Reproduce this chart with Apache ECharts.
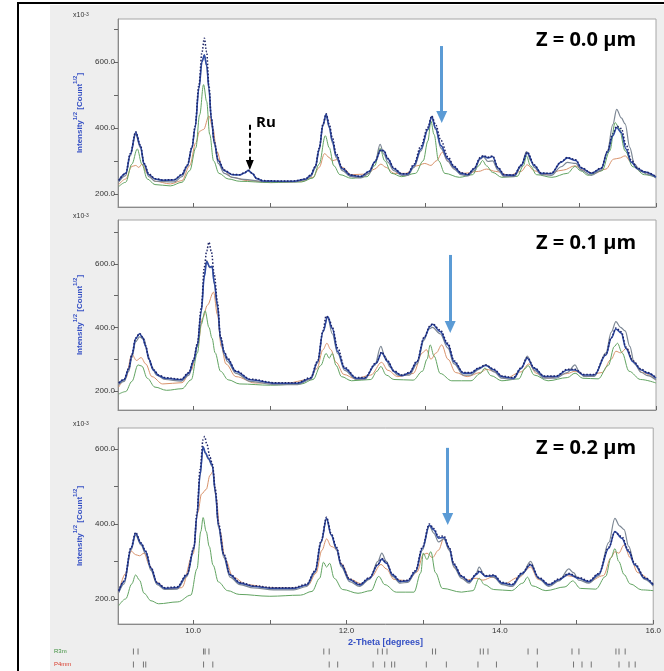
<!DOCTYPE html>
<html>
<head>
<meta charset="utf-8">
<script src="https://cdn.jsdelivr.net/npm/echarts@6/dist/echarts.min.js"></script>
<style>
  html, body { margin: 0; padding: 0; background: #fff; }
  #main { width: 664px; height: 671px; }
</style>
</head>
<body>
<div id="main"></div>
<script>
// x tick labels, y tick labels, bragg rows
var xLabelValues = [10, 12, 14, 16];
var xTickValues = [10, 11, 12, 13, 14, 15, 16];
var yLabelValues = [200, 400, 600];
var yTickValues = [200, 300, 400, 500, 600, 700];
var panelNames = ['Z = 0.0 µm', 'Z = 0.1 µm', 'Z = 0.2 µm'];
var phaseNames = ['R3m', 'P4mm'];

// bragg positions (2-theta)
var r3mPos = [9.22, 9.28, 10.13, 10.15, 10.20, 11.69, 11.76, 12.39, 12.45, 12.51, 13.10, 13.14, 13.72, 13.76, 13.82, 14.34, 14.46, 14.91, 15.00, 15.48, 15.52, 15.60];
var p4mmPos = [9.22, 9.35, 9.38, 10.13, 10.25, 11.76, 11.87, 12.33, 12.48, 12.57, 12.61, 13.02, 13.28, 13.69, 13.93, 14.46, 14.93, 15.04, 15.16, 15.52, 15.65, 15.73];

// arrows: [x, yTop, yTip] per panel
var arrowMarks = [[13.22, 648, 433], [13.33, 628, 401], [13.32, 603, 413]];
var ruMark = [10.73, 409, 287];

// ---- panel 1 (Z = 0.0) ----
var p1Obs = [[9.03,241],[9.12,262],[9.18,322],[9.25,388],[9.31,348],[9.36,292],[9.42,260],[9.5,246],[9.6,242],[9.75,243],[9.85,259],[9.92,288],[9.98,342],[10.02,405],[10.07,530],[10.11,630],[10.14,672],[10.17,630],[10.2,530],[10.23,432],[10.27,358],[10.32,302],[10.4,272],[10.5,259],[10.6,258],[10.66,264],[10.71,271],[10.76,263],[10.82,247],[10.9,240],[11.1,239],[11.3,239],[11.45,245],[11.52,257],[11.58,283],[11.63,338],[11.68,412],[11.72,443],[11.76,412],[11.8,372],[11.85,322],[11.93,279],[12.04,257],[12.17,253],[12.28,268],[12.35,296],[12.43,333],[12.47,331],[12.52,308],[12.6,278],[12.7,261],[12.78,261],[12.86,290],[12.95,345],[13.04,402],[13.09,436],[13.14,410],[13.21,362],[13.3,312],[13.38,284],[13.47,264],[13.56,259],[13.64,277],[13.72,310],[13.76,316],[13.82,311],[13.88,315],[13.95,280],[14.03,258],[14.16,257],[14.25,287],[14.33,326],[14.42,288],[14.51,263],[14.64,262],[14.77,297],[14.85,310],[14.96,303],[15.03,280],[15.16,263],[15.29,278],[15.37,328],[15.44,382],[15.49,405],[15.55,398],[15.61,350],[15.68,302],[15.76,278],[15.85,267],[16.0,252]];
var p1Calc = [[9.03,240],[9.12,262],[9.18,320],[9.25,386],[9.31,345],[9.36,290],[9.42,258],[9.5,245],[9.6,241],[9.75,242],[9.85,258],[9.92,286],[9.98,340],[10.02,400],[10.07,520],[10.11,600],[10.14,621],[10.17,590],[10.2,520],[10.23,430],[10.27,355],[10.32,300],[10.4,270],[10.5,258],[10.6,257],[10.66,263],[10.71,271],[10.76,262],[10.82,246],[10.9,239],[11.1,238],[11.3,238],[11.45,244],[11.52,256],[11.58,282],[11.63,336],[11.68,410],[11.72,441],[11.76,405],[11.8,362],[11.85,316],[11.93,276],[12.04,256],[12.17,252],[12.28,268],[12.35,296],[12.43,332],[12.47,330],[12.52,306],[12.6,276],[12.7,260],[12.78,260],[12.86,286],[12.95,336],[13.04,396],[13.09,434],[13.14,400],[13.21,346],[13.3,306],[13.38,281],[13.47,262],[13.56,258],[13.64,276],[13.72,308],[13.76,314],[13.82,309],[13.88,313],[13.95,278],[14.03,257],[14.16,256],[14.25,286],[14.33,324],[14.42,286],[14.51,262],[14.64,261],[14.77,296],[14.85,309],[14.96,301],[15.03,278],[15.16,262],[15.29,277],[15.37,326],[15.44,376],[15.49,401],[15.55,386],[15.61,336],[15.68,296],[15.76,276],[15.85,266],[16.0,251]];
var p1Gray = [[9.03,236],[9.12,255],[9.18,315],[9.25,380],[9.31,340],[9.36,285],[9.42,252],[9.5,238],[9.75,236],[9.85,252],[9.92,282],[9.98,338],[10.02,400],[10.07,520],[10.11,602],[10.14,621],[10.17,588],[10.2,515],[10.23,425],[10.27,350],[10.32,292],[10.4,262],[10.5,250],[10.65,244],[10.9,237],[11.3,236],[11.45,242],[11.52,252],[11.58,278],[11.63,330],[11.68,405],[11.72,438],[11.76,400],[11.8,355],[11.85,310],[11.93,270],[12.04,252],[12.17,248],[12.28,262],[12.36,300],[12.42,350],[12.47,320],[12.52,296],[12.6,270],[12.7,256],[12.78,256],[12.86,280],[12.95,330],[13.04,394],[13.09,432],[13.14,395],[13.21,338],[13.3,298],[13.38,275],[13.47,258],[13.56,254],[13.64,270],[13.72,305],[13.76,312],[13.82,298],[13.88,300],[13.95,272],[14.03,252],[14.16,252],[14.25,282],[14.32,328],[14.38,300],[14.42,280],[14.51,258],[14.64,256],[14.77,282],[14.85,295],[14.96,292],[15.03,272],[15.16,256],[15.29,272],[15.37,330],[15.44,410],[15.49,456],[15.55,430],[15.6,412],[15.66,340],[15.72,290],[15.8,268],[15.9,258],[16.0,248]];
var p1Green = [[9.03,222],[9.12,235],[9.2,290],[9.27,336],[9.33,290],[9.4,245],[9.5,228],[9.7,224],[9.85,235],[9.95,270],[10.03,340],[10.08,440],[10.13,531],[10.17,480],[10.21,380],[10.26,300],[10.33,262],[10.45,245],[10.6,238],[11.0,234],[11.4,236],[11.55,248],[11.63,290],[11.71,376],[11.76,340],[11.82,285],[11.9,258],[12.05,247],[12.25,252],[12.35,285],[12.42,338],[12.48,300],[12.57,262],[12.7,252],[12.88,262],[12.98,300],[13.04,360],[13.08,420],[13.12,380],[13.18,300],[13.26,262],[13.45,250],[13.62,258],[13.7,285],[13.75,301],[13.8,285],[13.88,265],[14.0,250],[14.2,253],[14.28,285],[14.32,315],[14.37,285],[14.45,258],[14.65,250],[14.85,262],[14.95,283],[15.02,270],[15.12,256],[15.3,270],[15.4,330],[15.47,416],[15.52,400],[15.6,330],[15.7,282],[15.85,258],[16.0,250]];
var p1Orange = [[9.03,228],[9.12,245],[9.2,283],[9.25,286],[9.29,280],[9.33,290],[9.4,262],[9.5,238],[9.7,230],[9.85,240],[9.95,285],[10.03,355],[10.08,390],[10.13,395],[10.2,436],[10.25,400],[10.3,330],[10.38,275],[10.5,250],[10.7,240],[11.0,234],[11.4,237],[11.55,250],[11.63,280],[11.7,322],[11.76,310],[11.8,300],[11.86,304],[11.93,280],[12.05,258],[12.25,260],[12.35,275],[12.43,290],[12.5,280],[12.6,262],[12.75,262],[12.9,285],[13.0,292],[13.08,286],[13.15,300],[13.23,326],[13.3,300],[13.36,280],[13.5,262],[13.7,268],[13.8,275],[13.92,268],[14.1,256],[14.25,268],[14.33,288],[14.42,270],[14.55,258],[14.8,272],[14.95,285],[15.05,272],[15.2,262],[15.35,275],[15.45,305],[15.52,308],[15.6,315],[15.68,295],[15.8,268],[16.0,252]];

// ---- panel 2 (Z = 0.1) ----
var p2Obs = [[9.03,226],[9.1,237],[9.16,272],[9.2,315],[9.25,367],[9.3,381],[9.34,370],[9.38,342],[9.42,302],[9.48,267],[9.55,250],[9.63,242],[9.84,237],[9.94,258],[10.0,298],[10.05,350],[10.1,460],[10.14,590],[10.17,640],[10.2,668],[10.23,640],[10.27,565],[10.31,480],[10.35,372],[10.4,324],[10.44,303],[10.55,263],[10.74,237],[11.05,226],[11.35,226],[11.52,242],[11.61,294],[11.68,390],[11.72,436],[11.76,425],[11.8,400],[11.87,335],[11.96,274],[12.11,242],[12.22,242],[12.37,289],[12.44,322],[12.52,294],[12.6,263],[12.7,250],[12.8,258],[12.9,294],[12.99,368],[13.07,405],[13.1,411],[13.2,392],[13.3,350],[13.38,295],[13.5,258],[13.6,258],[13.7,273],[13.79,282],[13.9,268],[14.0,247],[14.15,242],[14.25,273],[14.33,305],[14.42,273],[14.55,247],[14.7,247],[14.85,268],[14.95,268],[15.06,252],[15.2,252],[15.35,315],[15.42,368],[15.48,398],[15.55,386],[15.61,338],[15.7,295],[15.81,268],[15.89,258],[16.0,242]];
var p2Calc = [[9.03,224],[9.1,235],[9.16,270],[9.2,313],[9.25,365],[9.3,380],[9.34,368],[9.38,340],[9.42,300],[9.48,265],[9.55,248],[9.63,240],[9.84,235],[9.94,256],[10.0,295],[10.05,345],[10.1,450],[10.14,560],[10.17,607],[10.21,590],[10.24,592],[10.27,540],[10.31,471],[10.35,366],[10.4,320],[10.44,300],[10.55,261],[10.74,235],[11.05,224],[11.35,224],[11.52,240],[11.61,292],[11.68,387],[11.74,434],[11.8,397],[11.87,324],[11.96,271],[12.11,240],[12.22,240],[12.37,287],[12.44,320],[12.52,292],[12.6,261],[12.7,248],[12.8,256],[12.9,292],[12.99,366],[13.07,403],[13.1,410],[13.2,387],[13.3,345],[13.38,292],[13.5,256],[13.6,256],[13.7,271],[13.79,280],[13.9,266],[14.0,245],[14.15,240],[14.25,271],[14.33,303],[14.42,271],[14.55,245],[14.7,245],[14.85,266],[14.95,266],[15.06,250],[15.2,250],[15.35,313],[15.42,366],[15.48,395],[15.55,382],[15.61,334],[15.7,292],[15.81,266],[15.89,256],[16.0,240]];
var p2Gray = [[9.03,220],[9.1,230],[9.16,262],[9.2,305],[9.25,355],[9.3,370],[9.36,362],[9.4,320],[9.45,280],[9.52,250],[9.63,236],[9.84,231],[9.94,250],[10.0,290],[10.05,340],[10.1,450],[10.14,565],[10.17,610],[10.21,588],[10.24,590],[10.27,535],[10.31,460],[10.35,360],[10.4,312],[10.44,292],[10.55,255],[10.74,230],[11.05,220],[11.35,220],[11.52,236],[11.61,288],[11.68,385],[11.74,432],[11.8,380],[11.87,318],[11.96,265],[12.11,236],[12.22,236],[12.35,280],[12.43,340],[12.48,310],[12.55,275],[12.65,250],[12.8,250],[12.9,285],[12.99,360],[13.05,395],[13.1,400],[13.2,380],[13.3,335],[13.38,285],[13.5,250],[13.6,250],[13.7,268],[13.79,282],[13.9,260],[14.0,240],[14.15,236],[14.25,270],[14.33,310],[14.42,265],[14.55,240],[14.7,240],[14.85,258],[14.95,282],[15.0,262],[15.06,246],[15.2,246],[15.35,320],[15.42,385],[15.48,418],[15.54,400],[15.6,389],[15.66,340],[15.72,285],[15.81,258],[15.89,248],[16.0,234]];
var p2Green = [[9.03,190],[9.12,198],[9.2,230],[9.28,282],[9.33,278],[9.4,240],[9.5,212],[9.65,202],[9.85,207],[9.97,235],[10.05,320],[10.1,410],[10.15,452],[10.2,400],[10.24,366],[10.28,320],[10.35,262],[10.45,235],[10.6,222],[11.0,218],[11.4,222],[11.55,236],[11.65,280],[11.72,318],[11.76,303],[11.8,318],[11.85,280],[11.92,245],[12.05,232],[12.3,236],[12.38,262],[12.43,277],[12.5,250],[12.6,236],[12.85,234],[12.97,262],[13.03,300],[13.07,345],[13.12,310],[13.2,255],[13.35,232],[13.6,232],[13.72,255],[13.78,272],[13.86,248],[14.0,232],[14.22,238],[14.3,270],[14.34,280],[14.42,250],[14.6,232],[14.85,242],[14.95,256],[15.05,240],[15.25,238],[15.38,280],[15.46,340],[15.5,350],[15.56,320],[15.65,262],[15.8,236],[16.0,225]];
var p2Orange = [[9.03,212],[9.12,240],[9.2,315],[9.26,296],[9.32,305],[9.38,285],[9.46,245],[9.6,222],[9.85,226],[9.97,265],[10.05,340],[10.12,430],[10.18,470],[10.26,511],[10.31,440],[10.36,340],[10.42,285],[10.55,245],[10.8,225],[11.2,224],[11.5,236],[11.6,270],[11.68,330],[11.73,350],[11.78,330],[11.85,290],[11.95,252],[12.1,238],[12.3,250],[12.44,290],[12.52,265],[12.65,245],[12.85,255],[12.97,320],[13.02,330],[13.08,300],[13.15,320],[13.22,345],[13.3,300],[13.4,258],[13.55,245],[13.72,258],[13.8,268],[13.9,262],[14.05,240],[14.25,260],[14.35,285],[14.45,255],[14.6,240],[14.85,255],[14.95,262],[15.1,245],[15.3,258],[15.42,300],[15.48,325],[15.54,320],[15.62,335],[15.7,295],[15.82,258],[16.0,236]];

// ---- panel 3 (Z = 0.2) ----
var p3Obs = [[9.03,222],[9.1,248],[9.19,337],[9.25,377],[9.32,350],[9.38,328],[9.45,284],[9.53,244],[9.63,230],[9.79,232],[9.92,266],[10.01,338],[10.05,430],[10.09,545],[10.13,625],[10.15,633],[10.18,612],[10.22,578],[10.25,560],[10.29,492],[10.33,402],[10.4,320],[10.48,266],[10.61,244],[10.79,235],[11.05,230],[11.31,230],[11.48,239],[11.59,275],[11.67,356],[11.74,418],[11.8,375],[11.87,338],[11.93,294],[12.04,253],[12.17,239],[12.3,257],[12.41,293],[12.46,308],[12.52,297],[12.6,266],[12.7,248],[12.8,250],[12.9,276],[12.99,338],[13.08,400],[13.14,388],[13.2,366],[13.27,368],[13.34,338],[13.4,294],[13.5,262],[13.6,248],[13.7,268],[13.73,275],[13.82,262],[13.92,264],[14.03,244],[14.16,239],[14.29,270],[14.4,293],[14.51,257],[14.64,239],[14.77,253],[14.9,268],[15.03,257],[15.16,248],[15.29,268],[15.42,338],[15.5,378],[15.59,366],[15.68,330],[15.76,294],[15.89,257],[16.0,239]];
var p3Calc = [[9.03,220],[9.1,246],[9.19,335],[9.25,375],[9.32,348],[9.38,326],[9.45,282],[9.53,242],[9.63,228],[9.79,230],[9.92,264],[10.01,335],[10.05,424],[10.09,531],[10.13,606],[10.16,590],[10.2,575],[10.25,557],[10.29,486],[10.33,397],[10.4,317],[10.48,264],[10.61,242],[10.79,233],[11.05,228],[11.31,228],[11.48,237],[11.59,273],[11.67,353],[11.74,415],[11.8,371],[11.87,335],[11.93,291],[12.04,251],[12.17,237],[12.3,255],[12.41,291],[12.46,306],[12.52,295],[12.6,264],[12.7,246],[12.8,248],[12.9,273],[12.99,335],[13.08,397],[13.14,384],[13.2,362],[13.27,364],[13.34,335],[13.4,291],[13.5,260],[13.6,246],[13.7,266],[13.73,273],[13.82,260],[13.92,262],[14.03,242],[14.16,237],[14.29,268],[14.4,291],[14.51,255],[14.64,237],[14.77,251],[14.9,266],[15.03,255],[15.16,246],[15.29,266],[15.42,335],[15.5,380],[15.59,362],[15.68,326],[15.76,291],[15.89,255],[16.0,237]];
var p3Gray = [[9.03,216],[9.1,240],[9.19,330],[9.25,370],[9.32,344],[9.38,320],[9.45,276],[9.53,238],[9.63,225],[9.79,226],[9.92,260],[10.01,332],[10.05,420],[10.09,528],[10.13,606],[10.16,588],[10.2,572],[10.25,553],[10.29,480],[10.33,390],[10.4,310],[10.48,258],[10.61,238],[10.79,229],[11.05,224],[11.31,224],[11.48,233],[11.59,270],[11.67,350],[11.74,413],[11.8,370],[11.87,330],[11.93,286],[12.04,246],[12.17,233],[12.3,252],[12.41,300],[12.46,322],[12.52,300],[12.6,260],[12.7,242],[12.8,244],[12.9,270],[12.99,330],[13.08,395],[13.14,375],[13.2,352],[13.27,360],[13.34,330],[13.4,285],[13.5,255],[13.6,242],[13.68,262],[13.73,285],[13.8,262],[13.92,258],[14.03,238],[14.16,233],[14.29,265],[14.4,300],[14.5,255],[14.64,233],[14.77,248],[14.9,280],[14.96,270],[15.03,250],[15.16,242],[15.29,262],[15.42,350],[15.5,415],[15.56,395],[15.62,385],[15.68,340],[15.76,290],[15.89,252],[16.0,234]];
var p3Green = [[9.03,182],[9.12,200],[9.2,240],[9.25,264],[9.3,250],[9.36,215],[9.45,195],[9.55,187],[9.8,192],[9.97,210],[10.05,280],[10.1,380],[10.13,417],[10.17,380],[10.21,340],[10.26,290],[10.33,245],[10.45,222],[10.6,212],[11.0,207],[11.4,210],[11.55,220],[11.65,255],[11.7,298],[11.74,285],[11.78,295],[11.84,255],[11.95,225],[12.15,215],[12.32,222],[12.42,260],[12.5,238],[12.65,218],[12.88,218],[12.97,270],[13.0,322],[13.05,305],[13.1,326],[13.16,270],[13.25,228],[13.5,218],[13.65,222],[13.73,255],[13.8,238],[13.92,225],[14.15,222],[14.3,242],[14.36,258],[14.42,235],[14.6,222],[14.85,232],[14.95,248],[15.05,228],[15.25,226],[15.38,260],[15.45,310],[15.5,334],[15.55,300],[15.62,265],[15.7,240],[15.85,224],[16.0,222]];
var p3Orange = [[9.03,218],[9.12,268],[9.19,328],[9.25,318],[9.3,315],[9.36,322],[9.43,290],[9.52,245],[9.65,226],[9.85,230],[10.0,320],[10.06,430],[10.11,480],[10.17,492],[10.22,530],[10.26,540],[10.3,470],[10.35,380],[10.42,305],[10.52,258],[10.7,238],[11.0,230],[11.3,229],[11.5,237],[11.6,268],[11.68,330],[11.74,360],[11.8,340],[11.86,335],[11.93,295],[12.05,252],[12.2,240],[12.32,258],[12.45,292],[12.52,280],[12.62,252],[12.8,248],[12.92,272],[13.0,318],[13.05,322],[13.12,310],[13.2,330],[13.27,362],[13.34,330],[13.42,280],[13.55,250],[13.7,255],[13.78,250],[13.9,258],[14.05,240],[14.25,258],[14.4,285],[14.5,252],[14.65,238],[14.88,262],[15.0,258],[15.15,245],[15.35,262],[15.45,310],[15.5,326],[15.55,322],[15.62,344],[15.7,310],[15.8,270],[16.0,236]];

var panels = [
    { obs: p1Obs, calc: p1Calc, gray: p1Gray, green: p1Green, orange: p1Orange, yMin: 160, yMax: 730, top: 19, height: 188 },
    { obs: p2Obs, calc: p2Calc, gray: p2Gray, green: p2Green, orange: p2Orange, yMin: 140, yMax: 738, top: 220, height: 190 },
    { obs: p3Obs, calc: p3Calc, gray: p3Gray, green: p3Green, orange: p3Orange, yMin: 133, yMax: 656, top: 428, height: 196 }
];

var blueText = '#3550c4';
var chart = echarts.init(document.getElementById('main'), null, { renderer: 'canvas' });

var grids = [], xAxes = [], yAxes = [], series = [], graphics = [];

// page frame + gray backdrop
graphics.push({ type: 'rect', shape: { x: 50, y: 5, width: 614, height: 666 }, style: { fill: '#eeeeee' }, z: -10 });
graphics.push({ type: 'rect', shape: { x: 18, y: 2, width: 646, height: 2 }, style: { fill: '#000' }, z: -5 });
graphics.push({ type: 'rect', shape: { x: 17, y: 2, width: 2, height: 669 }, style: { fill: '#000' }, z: -5 });

function line(i, data, color, width, type, z) {
    return {
        type: 'line', xAxisIndex: i, yAxisIndex: i, data: data,
        showSymbol: false, smooth: 0.35, smoothMonotone: 'x', z: z,
        lineStyle: { color: color, width: width, type: type || 'solid' },
        silent: true
    };
}

panels.forEach(function (p, i) {
    grids.push({ left: 118, right: 8, top: p.top, height: p.height, show: true,
        backgroundColor: '#fff', borderColor: '#a6a6a6', borderWidth: 1 });
    xAxes.push({
        type: 'value', gridIndex: i, min: 9.02, max: 16,
        axisLine: { show: true, lineStyle: { color: '#8a8a8a' } },
        axisTick: { show: true, inside: true, length: 4, customValues: xTickValues, lineStyle: { color: '#666' } },
        axisLabel: { show: i === 2, customValues: xLabelValues, fontSize: 8, color: '#333', margin: 3,
            fontFamily: 'Liberation Sans', formatter: function (v) { return v.toFixed(1); } },
        splitLine: { show: false },
        name: i === 2 ? '2-Theta [degrees]' : '', nameLocation: 'middle', nameGap: 14,
        nameTextStyle: { color: blueText, fontSize: 9, fontWeight: 'bold', fontFamily: 'Liberation Sans' }
    });
    yAxes.push({
        type: 'value', gridIndex: i, min: p.yMin, max: p.yMax,
        axisLine: { show: true, lineStyle: { color: '#8a8a8a' } },
        axisTick: { show: true, length: 4, customValues: yTickValues, lineStyle: { color: '#666' } },
        axisLabel: { customValues: yLabelValues, fontSize: 8, color: '#333', margin: 3,
            fontFamily: 'Liberation Sans', formatter: function (v) { return v.toFixed(1); } },
        splitLine: { show: false },
        name: '{t|Intensity}{s|1/2}{t| [Count}{s|1/2}{t|]}', nameLocation: 'middle', nameGap: 33, nameRotate: 90,
        nameTextStyle: { rich: {
            t: { fontSize: 8, fontWeight: 'bold', color: blueText, fontFamily: 'Liberation Sans', lineHeight: 12, verticalAlign: 'bottom' },
            s: { fontSize: 6, fontWeight: 'bold', color: blueText, fontFamily: 'Liberation Sans', lineHeight: 12, verticalAlign: 'top' }
        } }
    });

    series.push(line(i, p.orange, '#d9936c', 1, 'solid', 2));
    series.push(line(i, p.green, '#62a462', 1, 'solid', 3));
    series.push(line(i, p.gray, '#7c8794', 1.2, 'solid', 4));
    var calc = line(i, p.calc, '#2f4ca6', 1.6, 'solid', 5);
    var a = arrowMarks[i];
    var ml = [[{ coord: [a[0], a[1]] }, { coord: [a[0], a[2]] }]];
    calc.markLine = {
        silent: true, symbol: ['none', 'triangle'], symbolSize: [11, 12], label: { show: false },
        lineStyle: { color: '#5b9bd5', width: 3, type: 'solid' }, data: ml, animation: false
    };
    series.push(calc);
    series.push(line(i, p.obs, '#1d2466', 1.5, [1.5, 1.8], 6));

    graphics.push({ type: 'text', left: 73, top: p.top - 7,
        style: { text: '{a|x10}{b|-3}', rich: { a: { fontSize: 7, fill: '#333', fontFamily: 'Liberation Sans' },
            b: { fontSize: 5, fill: '#333', fontFamily: 'Liberation Sans', verticalAlign: 'top' } } } });
    graphics.push({ type: 'text', x: 536, y: [40, 243, 448][i],
        style: { text: panelNames[i], fontSize: 20, fontWeight: 'bold', fontFamily: 'Open Sans', fill: '#000', textVerticalAlign: 'middle' } });
});

// Ru dashed arrow in panel 1
series.push({
    type: 'line', xAxisIndex: 0, yAxisIndex: 0, data: [], silent: true,
    markLine: { silent: true, symbol: ['none', 'triangle'], symbolSize: [8, 10], label: { show: false },
        lineStyle: { color: '#000', width: 2, type: [5, 3] }, animation: false,
        data: [[{ coord: [ruMark[0], ruMark[1]] }, { coord: [ruMark[0], ruMark[2]] }]] }
});
graphics.push({ type: 'text', x: 256, y: 123,
    style: { text: 'Ru', fontSize: 15, fontWeight: 'bold', fontFamily: 'Open Sans', fill: '#000', textVerticalAlign: 'middle' } });

// bragg rows
grids.push({ left: 118, right: 8, top: 645, height: 26, show: false });
xAxes.push({ type: 'value', gridIndex: 3, min: 9.02, max: 16, show: false });
yAxes.push({
    type: 'category', gridIndex: 3, data: phaseNames, inverse: true,
    axisLine: { show: false }, axisTick: { show: false }, splitLine: { show: false },
    axisLabel: { align: 'left', margin: 64, fontSize: 6, fontFamily: 'Liberation Sans',
        formatter: function (v) { return v === 'R3m' ? '{g|' + v + '}' : '{r|' + v + '}'; },
        rich: { g: { color: '#3d8f3d', fontSize: 6 }, r: { color: '#d83a2a', fontSize: 6 } } }
});
series.push({ type: 'scatter', xAxisIndex: 3, yAxisIndex: 3, symbol: 'rect', symbolSize: [1, 6], silent: true,
    itemStyle: { color: '#555' }, data: r3mPos.map(function (x) { return [x, 'R3m']; }) });
series.push({ type: 'scatter', xAxisIndex: 3, yAxisIndex: 3, symbol: 'rect', symbolSize: [1, 6], silent: true,
    itemStyle: { color: '#555' }, data: p4mmPos.map(function (x) { return [x, 'P4mm']; }) });

chart.setOption({
    animation: false,
    backgroundColor: '#fff',
    grid: grids,
    xAxis: xAxes,
    yAxis: yAxes,
    series: series,
    graphic: { elements: graphics }
});
</script>
</body>
</html>
